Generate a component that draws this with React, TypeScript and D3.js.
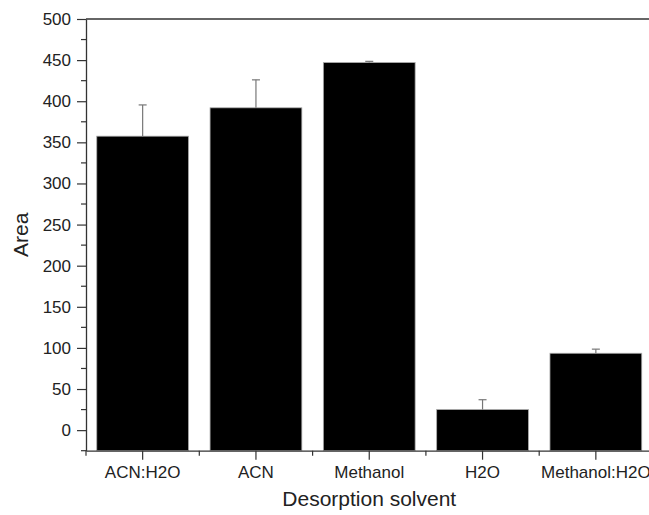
import React, { useEffect, useRef } from 'react';
import * as d3 from 'd3';

// desorption solvent comparison
const solvents = ['ACN:H2O', 'ACN', 'Methanol', 'H2O', 'Methanol:H2O'];
const areas = [357.5, 392, 447, 25, 93.5];
const errors = [38, 34, 1.5, 12, 5];
const yTicks = [0, 50, 100, 150, 200, 250, 300, 350, 400, 450, 500];

export default function App() {
  const ref = useRef<SVGSVGElement>(null);

  useEffect(() => {
    const svg = d3.select(ref.current);
    svg.selectAll('*').remove();

    const left = 86, right = 652.5, top = 19, bottom = 450.7;
    const font = 'Liberation Sans, Arial, sans-serif';

    const x = d3.scaleBand().domain(solvents).range([left, right]).paddingInner(0.19).paddingOuter(0.095);
    const y = d3.scaleLinear().domain([-25, 500]).range([bottom, top]);
    const step = x.step();

    // frame top line
    svg.append('line')
      .attr('x1', left).attr('x2', right).attr('y1', top).attr('y2', top)
      .attr('stroke', '#333').attr('stroke-width', 1.3);

    // bars
    svg.append('g').selectAll('rect')
      .data(solvents)
      .enter()
      .append('rect')
      .attr('x', d => x(d)!)
      .attr('width', x.bandwidth())
      .attr('y', (d, i) => y(areas[i]))
      .attr('height', (d, i) => y(-25) - y(areas[i]))
      .attr('fill', '#000')
      .attr('stroke', '#aaa')
      .attr('stroke-width', 0.8);

    // error bars (upper only)
    const eb = svg.append('g').attr('stroke', '#777').attr('stroke-width', 1.2);
    solvents.forEach((s, i) => {
      const cx = x(s)! + x.bandwidth() / 2;
      eb.append('line').attr('x1', cx).attr('x2', cx).attr('y1', y(areas[i])).attr('y2', y(areas[i] + errors[i]));
      eb.append('line').attr('x1', cx - 4).attr('x2', cx + 4).attr('y1', y(areas[i] + errors[i])).attr('y2', y(areas[i] + errors[i]));
    });

    // y axis
    const yAxis = d3.axisLeft(y).tickValues(yTicks).tickSize(9).tickSizeOuter(0);
    const ya = svg.append('g').attr('transform', `translate(${left},0)`).call(yAxis);
    ya.select('.domain').attr('stroke', '#333').attr('stroke-width', 1.3);
    ya.selectAll('.tick line').attr('stroke', '#333').attr('stroke-width', 1.2);
    ya.selectAll('.tick text').attr('font-size', 17).attr('font-family', font).attr('fill', '#222').attr('x', -15);
    const minorY = d3.range(-25, 500, 50);
    ya.selectAll('.minor').data(minorY).enter().append('line')
      .attr('x1', -5).attr('x2', 0).attr('y1', d => y(d)).attr('y2', d => y(d))
      .attr('stroke', '#333').attr('stroke-width', 1.2);

    // x axis
    const xAxis = d3.axisBottom(x).tickSize(9).tickSizeOuter(0);
    const xa = svg.append('g').attr('transform', `translate(0,${bottom})`).call(xAxis);
    xa.select('.domain').attr('stroke', '#333').attr('stroke-width', 1.3);
    xa.selectAll('.tick line').attr('stroke', '#333').attr('stroke-width', 1.2);
    xa.selectAll('.tick text').attr('font-size', 17).attr('font-family', font).attr('fill', '#222').attr('y', 15.5);
    const minorX = d3.range(0, solvents.length + 1).map(i => left + i * step);
    xa.selectAll('.minor').data(minorX).enter().append('line')
      .attr('x1', d => d).attr('x2', d => d).attr('y1', 0).attr('y2', 5)
      .attr('stroke', '#333').attr('stroke-width', 1.2);

    // axis titles
    svg.append('text')
      .text('Desorption solvent')
      .attr('x', (left + right) / 2).attr('y', 505.5)
      .attr('text-anchor', 'middle')
      .attr('font-size', 21).attr('font-family', font).attr('fill', '#222');

    svg.append('text')
      .text('Area')
      .attr('transform', `translate(28,${(top + bottom) / 2}) rotate(-90)`)
      .attr('text-anchor', 'middle')
      .attr('font-size', 21).attr('font-family', font).attr('fill', '#222');
  }, []);

  return (
    <svg ref={ref} width={649} height={515} style={{ position: 'absolute', left: 0, top: 0, background: '#fff' }} />
  );
}
